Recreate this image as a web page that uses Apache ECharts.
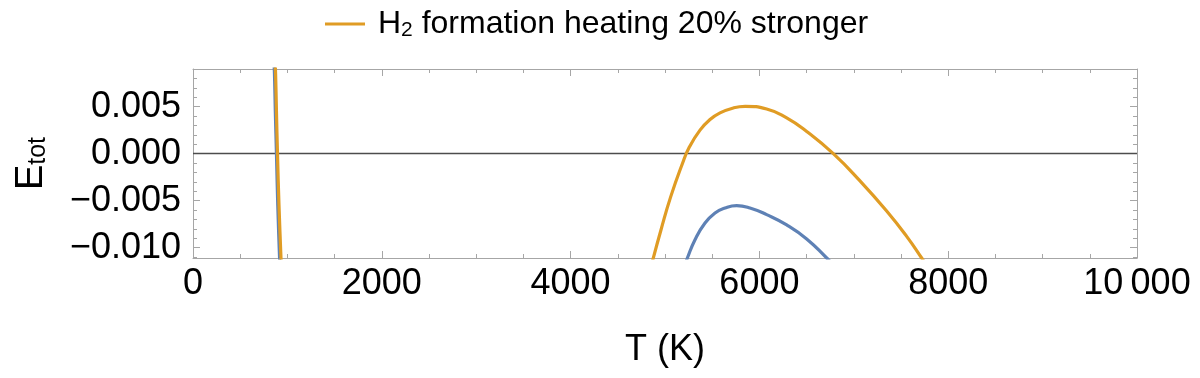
<!DOCTYPE html>
<html>
<head>
<meta charset="utf-8">
<script src="https://cdn.jsdelivr.net/npm/echarts@6/dist/echarts.min.js"></script>
<style>
html,body{margin:0;padding:0;background:#fff;}
#main{width:1200px;height:378px;}
</style>
</head>
<body>
<div id="main"></div>
<script>
// ---- data ----
const seriesNames = ['baseline', 'H2 formation heating 20% stronger'];
// blue curve: [T (K), E_tot]; two branches
const blueLow = [[858, 0.0095], [863, 0.0085], [872, 0.0045], [884, 0], [898, -0.0055], [917, -0.0111], [920, -0.0118]];
const blueHigh = [[5205, -0.0120], [5237, -0.0111], [5318, -0.00915], [5424, -0.00738], [5530, -0.00631], [5636, -0.00578], [5759, -0.00553], [5900, -0.00578], [6077, -0.00649], [6289, -0.00758], [6501, -0.00907], [6713, -0.0111], [6760, -0.0116]];
// orange curve
const orangeLow = [[870, 0.0095], [875, 0.0085], [884, 0.0045], [895, 0], [911, -0.0055], [932, -0.0111], [935, -0.0118]];
const orangeHigh = [[4845, -0.0124], [4876, -0.0111], [4958, -0.00809], [5060, -0.00460], [5183, -0.00110], [5258, 0.00070], [5371, 0.00250], [5477, 0.00362], [5583, 0.00433], [5724, 0.00486], [5850, 0.00503], [6077, 0.00475], [6289, 0.0038], [6501, 0.00236], [6783, 0], [7066, -0.00290], [7348, -0.00610], [7560, -0.0088], [7719, -0.0111], [7770, -0.0119]];
// axes
const xMin = 0, xMax = 10000, xStep = 2000;
const yMin = -0.0111, yMax = 0.0090;
const yMajor = [-0.010, -0.005, 0.000, 0.005];
const yMinor = [-0.011, -0.009, -0.008, -0.007, -0.006, -0.004, -0.003, -0.002, -0.001, 0.001, 0.002, 0.003, 0.004, 0.006, 0.007, 0.008, 0.009];

const FONT = '"Liberation Sans", Arial, sans-serif';
const frame = '#a6a6a6';
const blue = '#5E81B5';
const orange = '#E09C24';

function joinBranches(a, b) { return a.concat([[null, null]], b); }
function yFmt(v) {
  const s = v.toFixed(3);
  return s.replace('-', '\u2212');
}
function xFmt(v) {
  if (v >= 10000) { const s = String(v); return s.slice(0, s.length - 3) + '\u2009' + s.slice(-3); }
  return String(v);
}

const chart = echarts.init(document.getElementById('main'), null, {renderer: 'canvas'});

function xAxisDef(pos, labels) {
  return {
    type: 'value', position: pos, min: xMin, max: xMax, interval: xStep,
    axisLine: {show: true, onZero: false, lineStyle: {color: frame, width: 1}},
    axisTick: {show: true, inside: true, length: 7, lineStyle: {color: frame, width: 1}},
    minorTick: {show: true, splitNumber: 4, length: 4, lineStyle: {color: frame, width: 1}},
    splitLine: {show: false}, minorSplitLine: {show: false},
    axisLabel: labels ? {show: true, color: '#000', fontSize: 36, fontFamily: FONT, margin: 8, formatter: xFmt,
      showMinLabel: true, showMaxLabel: true, hideOverlap: false} : {show: false},
    name: labels ? 'T (K)' : '', nameLocation: 'middle', nameGap: 74,
    nameTextStyle: {color: '#000', fontSize: 36, fontFamily: FONT}
  };
}
function yAxisDef(pos, major, labels) {
  const vals = major ? yMajor : yMinor;
  return {
    type: 'value', position: pos, min: yMin, max: yMax,
    axisLine: {show: major, onZero: false, lineStyle: {color: frame, width: 1}},
    axisTick: {show: true, inside: true, length: major ? 7 : 4, customValues: vals, lineStyle: {color: frame, width: 1}},
    splitLine: {show: false},
    axisLabel: labels ? {show: true, color: '#000', fontSize: 36, fontFamily: FONT, margin: 12, formatter: yFmt, customValues: yMajor} : {show: false},
    name: labels ? '{n|E}{s|tot}' : '', nameLocation: 'middle', nameGap: 142, nameRotate: 90,
    nameTextStyle: {color: '#000', fontFamily: FONT,
      rich: {n: {fontSize: 38, fontFamily: FONT, color: '#000'}, s: {fontSize: 25, fontFamily: FONT, color: '#000', padding: [14, 0, 0, 0]}}}
  };
}

chart.setOption({
  animation: false,
  backgroundColor: '#fff',
  grid: {left: 193, right: 63, top: 69, bottom: 120, containLabel: false},
  legend: {
    data: [seriesNames[1]],
    left: 320, top: 3,
    itemWidth: 40, itemHeight: 14, itemGap: 10,
    icon: 'path://M0,5.5 L40,5.5 L40,8.5 L0,8.5 Z',
    formatter: () => '{n|H}{s|2}{n| formation heating 20% stronger}',
    textStyle: {color: '#000', fontFamily: FONT, fontSize: 32, padding: [0, 0, 0, 8],
      rich: {n: {fontSize: 32, fontFamily: FONT, color: '#000'}, s: {fontSize: 21, fontFamily: FONT, color: '#000', padding: [12, 0, 0, 0]}}}
  },
  xAxis: [xAxisDef('bottom', true), xAxisDef('top', false)],
  yAxis: [yAxisDef('left', true, true), yAxisDef('left', false, false), yAxisDef('right', true, false), yAxisDef('right', false, false)],
  series: [
    {
      name: seriesNames[0], type: 'line', xAxisIndex: 0, yAxisIndex: 0,
      data: joinBranches(blueLow, blueHigh), connectNulls: false,
      showSymbol: false, symbol: 'none', smooth: 0.5, clip: true,
      lineStyle: {color: blue, width: 3.2}, itemStyle: {color: blue},
      markLine: {silent: true, symbol: 'none', label: {show: false},
        lineStyle: {color: '#4d4d4d', width: 1.3, type: 'solid'}, data: [{yAxis: 0}], z: 1}
    },
    {
      name: seriesNames[1], type: 'line', xAxisIndex: 0, yAxisIndex: 0,
      data: joinBranches(orangeLow, orangeHigh), connectNulls: false,
      showSymbol: false, symbol: 'none', smooth: 0.5, clip: true,
      lineStyle: {color: orange, width: 3.2}, itemStyle: {color: orange}
    }
  ]
});
</script>
</body>
</html>
